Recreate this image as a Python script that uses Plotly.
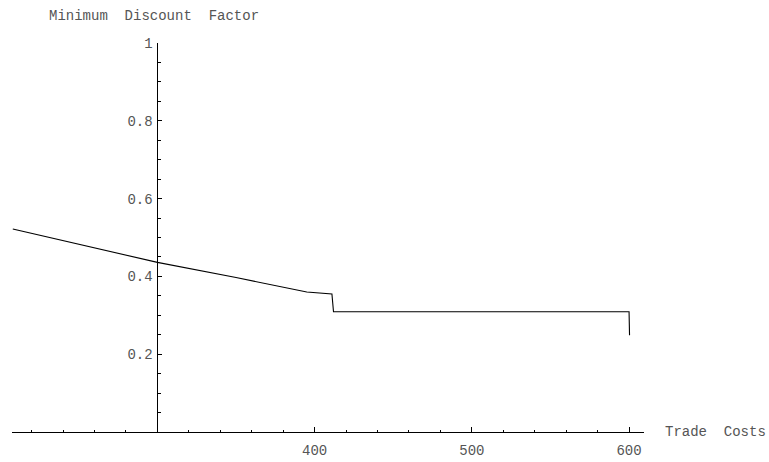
import plotly.graph_objects as go

# Data
trade_costs = [208, 250, 300, 350, 395, 411, 412, 600, 600.3]
min_discount = [0.522, 0.483, 0.436, 0.397, 0.360, 0.355, 0.309, 0.309, 0.249]

x_tickvals = [400, 500, 600]
x_ticktext = ["400", "500", "600"]
y_tickvals = [0.2, 0.4, 0.6, 0.8, 1.0]
y_ticktext = ["0.2", "0.4", "0.6", "0.8", "1"]

X_RANGE = [207.5, 609.5]
Y_RANGE = [0, 1.0]
Y_AXIS_AT = 300

font = dict(family="Liberation Mono, Courier New, monospace", size=14, color="#555")

fig = go.Figure()
fig.add_trace(go.Scatter(x=trade_costs, y=min_discount, mode="lines",
                         line=dict(color="black", width=1.1), showlegend=False,
                         cliponaxis=True))

ypos = (Y_AXIS_AT - X_RANGE[0]) / (X_RANGE[1] - X_RANGE[0])

fig.update_layout(
    width=769, height=462,
    margin=dict(l=12, r=125, t=43, b=30, autoexpand=False),
    paper_bgcolor="white", plot_bgcolor="white",
    font=font,
    xaxis=dict(range=X_RANGE, showgrid=False, zeroline=False, showline=True,
               linecolor="black", linewidth=1, automargin=False,
               tickmode="array", tickvals=x_tickvals, ticktext=x_ticktext,
               ticks="inside", ticklen=5, tickcolor="black", tickwidth=1,
               minor=dict(tick0=0, dtick=20, ticks="inside", ticklen=2.5,
                          tickcolor="black", tickwidth=1, showgrid=False),
               tickfont=font, ticklabelstandoff=5, fixedrange=True),
    yaxis=dict(range=Y_RANGE, showgrid=False, zeroline=False, showline=True,
               linecolor="black", linewidth=1, anchor="free", position=ypos,
               automargin=False,
               tickmode="array", tickvals=y_tickvals, ticktext=y_ticktext,
               ticks="inside", ticklen=4, tickcolor="black", tickwidth=1,
               minor=dict(tick0=0, dtick=0.05, ticks="inside", ticklen=2.5,
                          tickcolor="black", tickwidth=1, showgrid=False),
               tickfont=font, ticklabelstandoff=2, fixedrange=True),
)

fig.add_annotation(text="Minimum\u00a0\u00a0Discount\u00a0\u00a0Factor",
                   xref="paper", yref="paper",
                   x=(154 - 12) / 632, y=1.0, yshift=27,
                   showarrow=False, font=font, xanchor="center", yanchor="middle")
fig.add_annotation(text="Trade\u00a0\u00a0Costs",
                   xref="paper", yref="paper",
                   x=1.0, y=0, xshift=19,
                   showarrow=False, font=font, xanchor="left", yanchor="middle")

fig.write_html("out.html", post_script="document.body.style.margin='0';",
               config={"displayModeBar": False})
